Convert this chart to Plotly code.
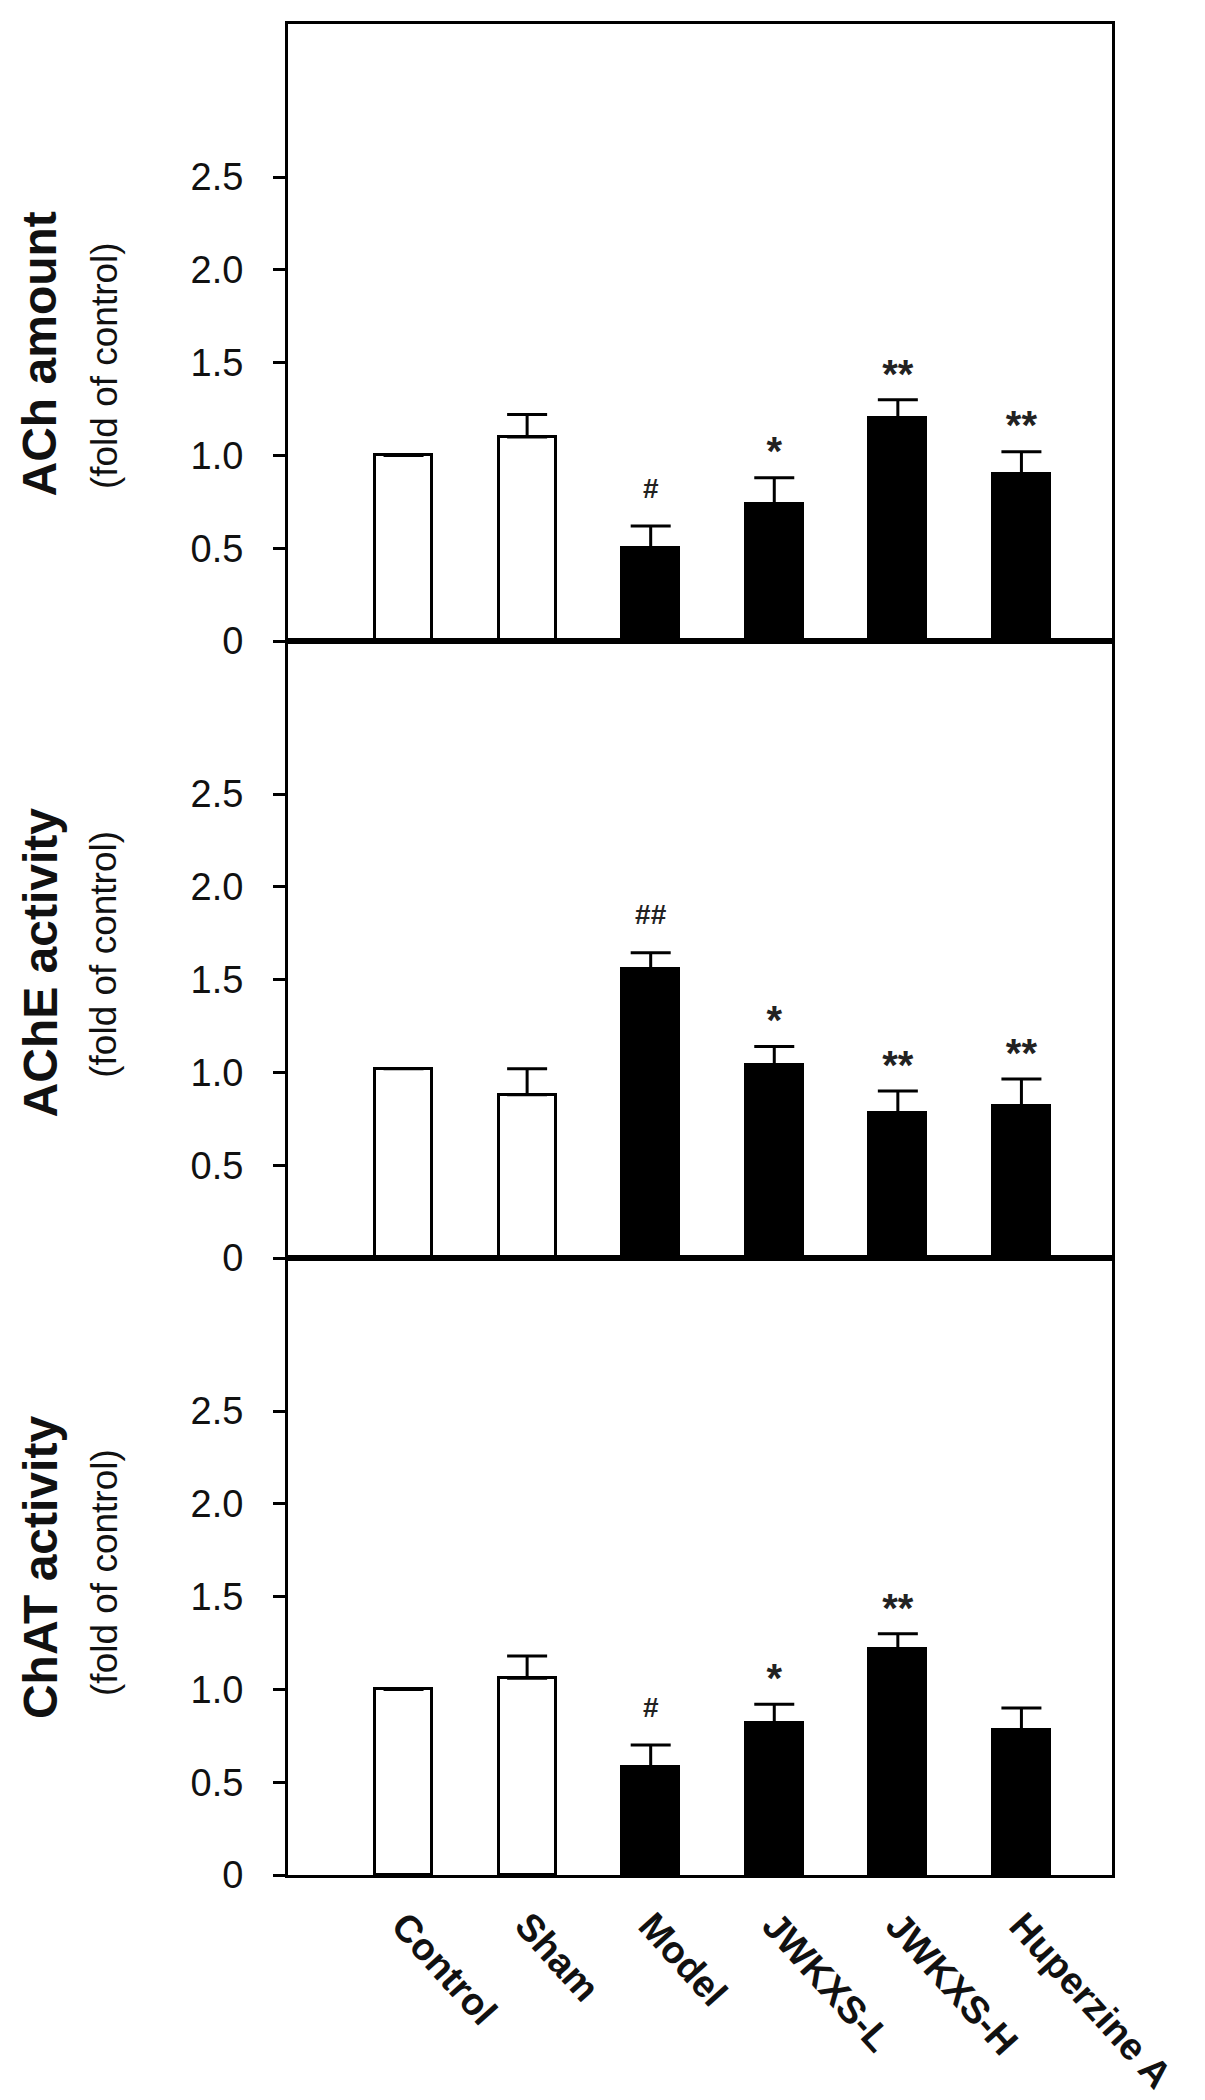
import plotly.graph_objects as go
from plotly.subplots import make_subplots

# ---------------- data ----------------
categories = ["Control", "Sham", "Model", "JWKXS-L", "JWKXS-H", "Huperzine A"]

ach_mean = [1.00, 1.10, 0.50, 0.74, 1.20, 0.90]
ach_sem = [0.0, 0.12, 0.12, 0.14, 0.10, 0.12]
ach_sig = ["", "", "#", "*", "**", "**"]

ache_mean = [1.02, 0.88, 1.56, 1.04, 0.78, 0.82]
ache_sem = [0.0, 0.14, 0.085, 0.10, 0.12, 0.145]
ache_sig = ["", "", "##", "*", "**", "**"]

chat_mean = [1.00, 1.06, 0.58, 0.82, 1.22, 0.78]
chat_sem = [0.0, 0.12, 0.12, 0.10, 0.08, 0.12]
chat_sig = ["", "", "#", "*", "**", ""]

bar_colors = ["white", "white", "black", "black", "black", "black"]

y_tickvals = [0, 0.5, 1.0, 1.5, 2.0, 2.5]
y_ticktext = ["0", "0.5", "1.0", "1.5", "2.0", "2.5"]

titles = ["ACh amount", "AChE activity", "ChAT activity"]
subtitle = "(fold of control)"

panels = [
    (ach_mean, ach_sem, ach_sig),
    (ache_mean, ache_sem, ache_sig),
    (chat_mean, chat_sem, chat_sig),
]

FONT = "Liberation Sans, Arial, sans-serif"
xpos = list(range(len(categories)))

fig = make_subplots(rows=3, cols=1, shared_xaxes=True, vertical_spacing=0)

for i, (mean, sem, sig) in enumerate(panels, start=1):
    fig.add_trace(
        go.Bar(
            x=xpos,
            y=mean,
            width=0.46,
            marker=dict(color=bar_colors, line=dict(color="black", width=3)),
            error_y=dict(type="data", array=sem, arrayminus=[0] * len(sem),
                         symmetric=False, color="black", thickness=3, width=20),
            showlegend=False,
        ),
        row=i, col=1,
    )
    # significance markers just above the error bars
    hash_x, hash_y, hash_t = [], [], []
    star_x, star_y, star_t = [], [], []
    for k, s in enumerate(sig):
        if not s:
            continue
        if "#" in s:
            hash_x.append(xpos[k])
            hash_y.append(mean[k] + sem[k] + 0.19)
            hash_t.append(s)
        else:
            star_x.append(xpos[k])
            star_y.append(mean[k] + sem[k] + 0.12)
            star_t.append(s)
    fig.add_trace(
        go.Scatter(x=hash_x, y=hash_y, text=hash_t, mode="text",
                   textposition="middle center",
                   textfont=dict(family=FONT, size=28, color="#222", weight="bold"),
                   showlegend=False, cliponaxis=False),
        row=i, col=1,
    )
    fig.add_trace(
        go.Scatter(x=star_x, y=star_y, text=star_t, mode="text",
                   textposition="middle center",
                   textfont=dict(family=FONT, size=40, color="#222", weight="bold"),
                   showlegend=False, cliponaxis=False),
        row=i, col=1,
    )

    fig.update_yaxes(
        range=[0, 3.325], tickvals=y_tickvals, ticktext=y_ticktext,
        ticks="outside", ticklen=12, tickwidth=3, tickcolor="black",
        showline=True, linecolor="black", linewidth=3, mirror=True,
        showgrid=False, zeroline=False, ticklabelstandoff=22,
        tickfont=dict(family=FONT, size=38, color="#111"),
        row=i, col=1,
    )
    fig.update_xaxes(
        range=[-0.935, 5.733], tickvals=xpos, ticktext=categories,
        showline=True, linecolor="black", linewidth=3, mirror=True,
        showgrid=False, zeroline=False, ticks="",
        row=i, col=1,
    )

fig.update_xaxes(
    tickangle=48, ticklabelstandoff=10,
    tickfont=dict(family=FONT, size=38, color="#111", weight="bold"),
    row=3, col=1,
)

# y-axis titles (two lines with different sizes)
title_pos = [(0.466, 0.447), (0.479, 0.493), (0.499, 0.491)]
for i, (t, (ty, sy)) in enumerate(zip(titles, title_pos), start=1):
    yref = "y domain" if i == 1 else f"y{i} domain"
    fig.add_annotation(
        text=f"<b>{t}</b>", xref="paper", yref=yref, x=-0.301, y=ty,
        textangle=-90, showarrow=False, xanchor="center", yanchor="middle",
        font=dict(family=FONT, size=48, color="#111"),
    )
    fig.add_annotation(
        text=subtitle, xref="paper", yref=yref, x=-0.2234, y=sy,
        textangle=-90, showarrow=False, xanchor="center", yanchor="middle",
        font=dict(family=FONT, size=37, color="#111"),
    )

fig.update_layout(
    width=1205, height=2100,
    margin=dict(l=280, r=101, t=16, b=229),
    plot_bgcolor="white", paper_bgcolor="white",
    bargap=0, showlegend=False,
)

fig.write_html("out.html")
